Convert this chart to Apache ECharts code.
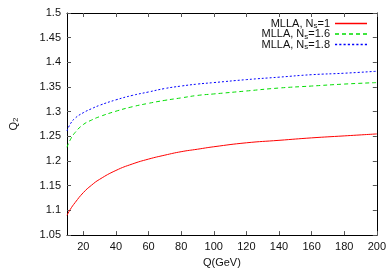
<!DOCTYPE html>
<html><head><meta charset="utf-8">
<script src="https://cdn.jsdelivr.net/npm/echarts@6/dist/echarts.min.js"></script>
<style>html,body{margin:0;padding:0;background:#fff}#c{width:389px;height:273px}</style>
</head><body><div id="c"></div>
<script>
const qValues = [10,12,15,20,25,30,40,50,60,70,80,90,100,120,140,160,180,200];
const ns1 = [1.090,1.102,1.116,1.136,1.151,1.163,1.181,1.194,1.204,1.212,1.219,1.224,1.229,1.237,1.242,1.247,1.251,1.255];
const ns16 = [1.228,1.243,1.258,1.274,1.283,1.290,1.301,1.310,1.317,1.323,1.328,1.333,1.336,1.342,1.348,1.352,1.356,1.359];
const ns18 = [1.261,1.275,1.287,1.298,1.306,1.313,1.324,1.333,1.340,1.347,1.352,1.356,1.359,1.365,1.370,1.375,1.378,1.382];
const xTicks = [20,40,60,80,100,120,140,160,180,200];
const seriesNames = ['1','1.6','1.8'];

const font = 'Liberation Sans, Arial, sans-serif';
const pair = a => qValues.map((q,i)=>[q,a[i]]);
const chart = echarts.init(document.getElementById('c'), null, {renderer:'canvas'});
const axisCommon = {
  axisLine:{show:true,onZero:false,lineStyle:{color:'#000',width:1}},
  axisTick:{show:true,inside:true,length:4,lineStyle:{color:'#555'}},
  splitLine:{show:false}
};
const richLegend = {
  a:{fontFamily:font,fontSize:11,color:'#111'},
  s:{fontFamily:font,fontSize:8,color:'#111',padding:[5,0,0,0]}
};
const colors = ['#ff0000','#00dd00','#0000ff'];
const types = ['solid',[4,3],[2,2]];
function dashPath(on, off){
  let p = 'path://';
  for (let x = 0; x < 32; x += on + off) { const w = Math.min(on, 32 - x); p += 'M'+x+',0h'+w+'v1h-'+w+'z'; }
  return p;
}
const icons = ['path://M0,0H32V1H0Z', dashPath(4,3), dashPath(2,2)];
function legendFor(name, top, i){
  return {show:true, data:[{name:name, icon:icons[i]}], right:22, top:top, align:'right', itemWidth:32, itemHeight:1.5,
    symbolKeepAspect:false, padding:0, itemGap:0, selectedMode:false,
    itemStyle:{color:colors[i], borderWidth:0, borderColor:colors[i], opacity:1},
    formatter: n => '{a|MLLA, N}{s|s}{a|=' + n + '}',
    textStyle:{rich:richLegend}};
}
chart.setOption({
  animation:false,
  grid:{left:62,right:10,top:13,bottom:33},
  legend:[legendFor('1',18,0),legendFor('1.6',28.5,1),legendFor('1.8',39,2)],
  xAxis:[
    Object.assign({type:'value',min:10,max:200,position:'bottom',
      name:'Q(GeV)',nameLocation:'middle',nameGap:18,
      nameTextStyle:{fontFamily:font,fontSize:11,color:'#111'},
      axisLabel:{customValues:xTicks,fontFamily:font,fontSize:11,color:'#111',margin:6},
    },axisCommon,{axisTick:Object.assign({},axisCommon.axisTick,{customValues:xTicks})}),
    Object.assign({type:'value',min:10,max:200,position:'top',axisLabel:{show:false}},
      axisCommon,{axisTick:Object.assign({},axisCommon.axisTick,{customValues:xTicks})})
  ],
  yAxis:[
    Object.assign({type:'value',min:1.05,max:1.5,interval:0.05,position:'left',
      name:'{a|Q}{s|2}',nameLocation:'middle',nameGap:47,nameRotate:90,
      nameTextStyle:{rich:{a:{fontFamily:font,fontSize:11,color:'#111'},s:{fontFamily:font,fontSize:8,color:'#111',padding:[5,0,0,0]}}},
      axisLabel:{fontFamily:font,fontSize:11,color:'#111',margin:6}
    },axisCommon),
    Object.assign({type:'value',min:1.05,max:1.5,interval:0.05,position:'right',axisLabel:{show:false}},axisCommon)
  ],
  series:[ns1,ns16,ns18].map((d,i)=>({
    name:seriesNames[i], type:'line', data:pair(d), smooth:true, showSymbol:false, symbol:'none',
    lineStyle:{color:colors[i],width:1,type:types[i]}, itemStyle:{color:colors[i]}
  }))
});
</script></body></html>
